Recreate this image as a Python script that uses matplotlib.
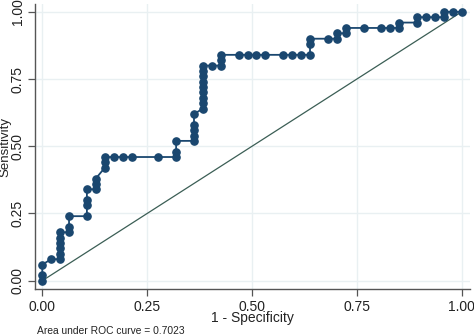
import matplotlib
matplotlib.use("Agg")
import matplotlib.pyplot as plt

# ROC curve points: 1 - specificity and sensitivity at each cut-off
fpr = [0.0, 0.0, 0.0,
       0.0213,
       0.0426, 0.0426, 0.0426, 0.0426, 0.0426, 0.0426,
       0.0638, 0.0638, 0.0638,
       0.1064, 0.1064, 0.1064, 0.1064,
       0.1277, 0.1277, 0.1277,
       0.1489, 0.1489, 0.1489,
       0.1702, 0.1915, 0.2128, 0.2766,
       0.3191, 0.3191, 0.3191,
       0.3617, 0.3617, 0.3617, 0.3617, 0.3617,
       0.3830, 0.3830, 0.3830, 0.3830, 0.3830, 0.3830, 0.3830, 0.3830, 0.3830,
       0.4043,
       0.4255, 0.4255, 0.4255,
       0.4681, 0.4894, 0.5106, 0.5319, 0.5745, 0.5957, 0.6170,
       0.6383, 0.6383, 0.6383,
       0.6809,
       0.7021, 0.7021,
       0.7234, 0.7234,
       0.7660, 0.8085, 0.8298,
       0.8511, 0.8511,
       0.8936, 0.8936,
       0.9149, 0.9362,
       0.9574, 0.9574,
       0.9787, 1.0]
tpr = [0.00, 0.02, 0.06,
       0.08,
       0.08, 0.10, 0.12, 0.14, 0.16, 0.18,
       0.18, 0.20, 0.24,
       0.24, 0.28, 0.30, 0.34,
       0.34, 0.36, 0.38,
       0.42, 0.44, 0.46,
       0.46, 0.46, 0.46, 0.46,
       0.46, 0.48, 0.52,
       0.52, 0.54, 0.56, 0.58, 0.62,
       0.64, 0.66, 0.68, 0.70, 0.72, 0.74, 0.76, 0.78, 0.80,
       0.80,
       0.80, 0.82, 0.84,
       0.84, 0.84, 0.84, 0.84, 0.84, 0.84, 0.84,
       0.84, 0.88, 0.90,
       0.90,
       0.90, 0.92,
       0.92, 0.94,
       0.94, 0.94, 0.94,
       0.94, 0.96,
       0.96, 0.98,
       0.98, 0.98,
       0.98, 1.00,
       1.00, 1.00]

ticks = [0.0, 0.25, 0.5, 0.75, 1.0]
tick_labels = ["0.00", "0.25", "0.50", "0.75", "1.00"]
auc_text = "Area under ROC curve = 0.7023"

plt.rcParams["font.family"] = ["Liberation Sans", "DejaVu Sans"]

fig = plt.figure(figsize=(4.74, 3.35), dpi=100)
ax = fig.add_axes([0.0738, 0.1364, 0.918, 0.8516])

navy = "#1a476f"
ax.plot([0, 1], [0, 1], color="#3b5e55", lw=0.9, zorder=2)
ax.plot(fpr, tpr, color=navy, lw=1.3, marker="o", markersize=5.2,
        markerfacecolor=navy, markeredgecolor=navy, zorder=3)

ax.set_xlim(-0.0174, 1.02)
ax.set_ylim(-0.032, 1.029)
ax.set_xticks(ticks)
ax.set_xticklabels(tick_labels)
ax.set_yticks(ticks)
ax.set_yticklabels(tick_labels, rotation=90, va="center")

ax.grid(True, color="#e9f0f2", lw=1.0, zorder=0)
ax.set_axisbelow(True)
for side in ("top", "right"):
    ax.spines[side].set_visible(False)
for side in ("left", "bottom"):
    ax.spines[side].set_color("#555555")
    ax.spines[side].set_linewidth(1.0)
ax.tick_params(axis="both", direction="out", length=5, width=0.9,
               color="#555555", labelsize=10, labelcolor="#222222", pad=2.5)

ax.set_xlabel("1 - Specificity", fontsize=10, color="#222222")
ax.xaxis.set_label_coords(0.5, -0.076)
ax.set_ylabel("Sensitivity", fontsize=9.5, color="#222222")
ax.yaxis.set_label_coords(-0.055, 0.5)

fig.text(37 / 474, 0.012, auc_text, fontsize=7.4, color="#222222",
         ha="left", va="center")

fig.savefig("out.png", dpi=100, facecolor="white")
